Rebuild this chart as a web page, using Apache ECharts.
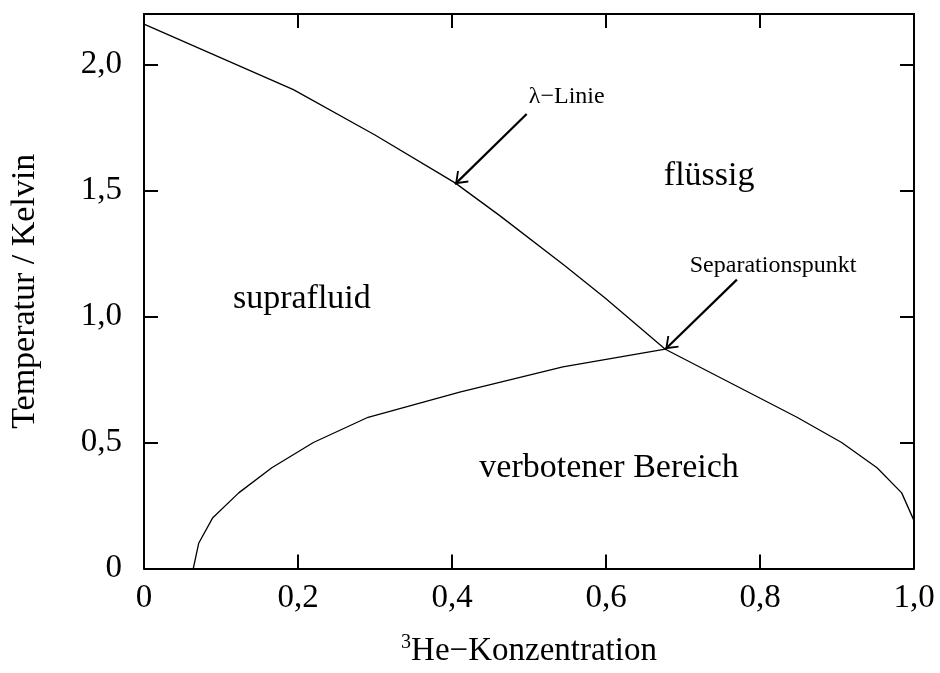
<!DOCTYPE html>
<html>
<head>
<meta charset="utf-8">
<script src="https://cdn.jsdelivr.net/npm/echarts@6/dist/echarts.min.js"></script>
<style>
  html, body { margin: 0; padding: 0; background: #fff; }
  #chart { width: 940px; height: 673px; }
</style>
</head>
<body>
<div id="chart"></div>
<script>
// Phase diagram of 3He/4He mixtures: concentration (x) vs. temperature (K)

// lambda line, from pure 4He to pure 3He side (through the separation point)
const lambdaLine = [
  [0.000, 2.16], [0.194, 1.90], [0.300, 1.72], [0.404, 1.53],
  [0.462, 1.40], [0.547, 1.20], [0.600, 1.07], [0.677, 0.87],
  [0.848, 0.60], [0.906, 0.50], [0.952, 0.40], [0.984, 0.30],
  [1.000, 0.19]
];

// phase separation boundary (4He-rich branch)
const separationLine = [
  [0.064, 0.00], [0.071, 0.10], [0.089, 0.20], [0.123, 0.30],
  [0.166, 0.40], [0.220, 0.50], [0.291, 0.60], [0.410, 0.70],
  [0.544, 0.80], [0.677, 0.87]
];

// axis ticks
const xTicks = [0, 0.2, 0.4, 0.6, 0.8, 1.0];
const yTicks = [0, 0.5, 1.0, 1.5, 2.0];

// region names, anchored in data coordinates
const regionNames = ['flüssig', 'suprafluid', 'verbotener Bereich'];
const regionAnchors = [[0.734, 1.555], [0.205, 1.067], [0.604, 0.398]];

// arrow annotations: label, label anchor, arrow tail, arrow tip
const noteNames = ['λ−Linie', 'Separationspunkt'];
const noteAnchors = [[0.549, 1.87], [0.817, 1.20]];
const arrowTails = [[0.497, 1.803], [0.770, 1.146]];
const arrowTips = [[0.404, 1.525], [0.677, 0.870]];

const FONT = 'Liberation Serif';
const fmt = v => {
  if (Math.abs(v) < 1e-9) return '0';
  if (!yTicks.concat(xTicks).some(t => Math.abs(t - v) < 1e-9)) return '';
  return v.toFixed(1).replace('.', ',');
};

// open "V" arrow head, tip at the top
const chevron = 'path://M0,0 L10,11 L8.4,12.4 L0,3.2 L-8.4,12.4 L-10,11 Z';

const axisCommon = {
  type: 'value',
  axisLine: { show: true, onZero: false, lineStyle: { color: '#000', width: 2 } },
  axisTick: { show: true, inside: true, length: 14, lineStyle: { color: '#000', width: 2 } },
  splitLine: { show: false }
};

const chart = echarts.init(document.getElementById('chart'), null, { renderer: 'canvas' });

chart.setOption({
  animation: false,
  backgroundColor: '#fff',
  textStyle: { fontFamily: FONT, color: '#000' },
  grid: { left: 144, right: 26, top: 14, bottom: 100 },
  xAxis: [
    Object.assign({}, axisCommon, {
      position: 'bottom', min: 0, max: 1, interval: 0.2,
      axisLabel: { formatter: fmt, fontFamily: FONT, fontSize: 33, color: '#000', margin: 13 },
      name: '{sup|3}He−Konzentration',
      nameLocation: 'middle', nameGap: 64,
      nameTextStyle: {
        fontFamily: FONT, fontSize: 33, color: '#000',
        rich: { sup: { fontFamily: FONT, fontSize: 20, color: '#000', padding: [0, 0, 18, 0] } }
      }
    }),
    Object.assign({}, axisCommon, {
      position: 'top', min: 0, max: 1, interval: 0.2,
      axisLabel: { show: false }
    })
  ],
  yAxis: [
    Object.assign({}, axisCommon, {
      position: 'left', min: 0, max: 2.2, interval: 0.5,
      axisLabel: { formatter: fmt, fontFamily: FONT, fontSize: 33, color: '#000', margin: 22 },
      name: 'Temperatur / Kelvin',
      nameLocation: 'middle', nameGap: 102, nameRotate: 90,
      nameTextStyle: { fontFamily: FONT, fontSize: 34, color: '#000' }
    }),
    Object.assign({}, axisCommon, {
      position: 'right', min: 0, max: 2.2, interval: 0.5,
      axisLabel: { show: false }
    })
  ],
  series: [
    {
      name: 'λ-Linie', type: 'line', data: lambdaLine,
      showSymbol: false, symbol: 'none', silent: true,
      lineStyle: { color: '#000', width: 1.3 },
      markLine: {
        silent: true,
        symbol: ['none', chevron],
        symbolSize: [16, 12],
        symbolOffset: [0, [0, 6]],
        lineStyle: { color: '#000', width: 2.2, type: 'solid' },
        label: { show: false },
        data: arrowTails.map((t, i) => [{ coord: t }, { coord: arrowTips[i] }])
      }
    },
    {
      name: 'Phasenseparation', type: 'line', data: separationLine,
      showSymbol: false, symbol: 'none', silent: true,
      lineStyle: { color: '#000', width: 1.3 }
    },
    {
      name: 'Bereiche', type: 'scatter', symbolSize: 0, silent: true,
      itemStyle: { opacity: 1, color: '#000' },
      data: regionNames.map((n, i) => ({ name: n, value: regionAnchors[i] })),
      label: {
        show: true, position: 'inside', formatter: p => p.name,
        fontFamily: FONT, fontSize: 34, color: '#000'
      }
    },
    {
      name: 'Hinweise', type: 'scatter', symbolSize: 0, silent: true,
      itemStyle: { opacity: 1, color: '#000' },
      data: noteNames.map((n, i) => ({ name: n, value: noteAnchors[i] })),
      label: {
        show: true, position: 'inside', formatter: p => p.name,
        fontFamily: FONT, fontSize: 24, color: '#000'
      }
    }
  ]
});
</script>
</body>
</html>
